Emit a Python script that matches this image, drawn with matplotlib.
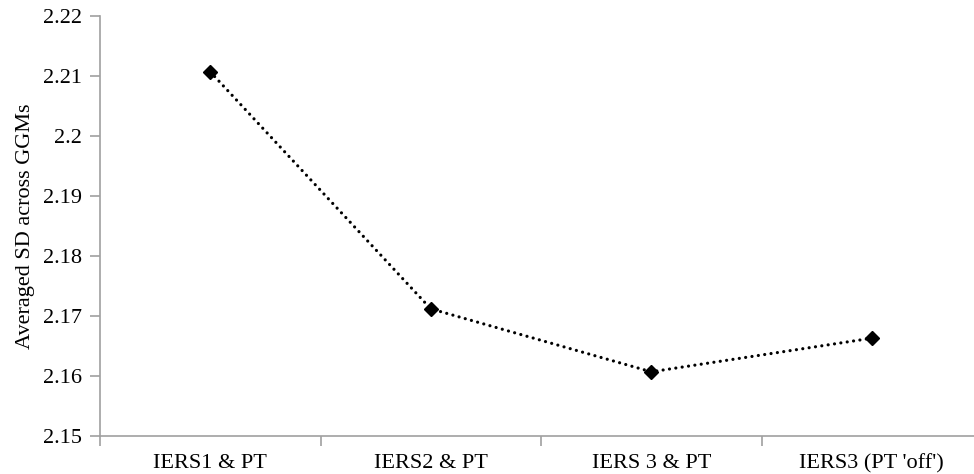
import matplotlib
matplotlib.use("Agg")
import matplotlib.pyplot as plt
import numpy as np

categories = ["IERS1 & PT", "IERS2 & PT", "IERS 3 & PT", "IERS3 (PT 'off')"]
values = [2.2107, 2.1712, 2.1607, 2.1663]
yticks = [2.15, 2.16, 2.17, 2.18, 2.19, 2.20, 2.21, 2.22]
ytick_labels = ["2.15", "2.16", "2.17", "2.18", "2.19", "2.2", "2.21", "2.22"]

plt.rcParams['font.family'] = ['Liberation Serif', 'DejaVu Serif']

fig = plt.figure(figsize=(9.74, 4.74), dpi=100)
W, H = 974, 474
left, right, top, bottom = 100, 982, 16, 436
ax = fig.add_axes([left / W, (H - bottom) / H, (right - left) / W, (bottom - top) / H])

x = np.arange(len(categories))
ax.plot(x, values, linestyle=(0, (0.01, 2.0)), color='black', linewidth=2.3,
        dash_capstyle='round', clip_on=False)
ax.plot(x, values, linestyle='none', marker='D', markersize=7,
        markerfacecolor='black', markeredgecolor='black', clip_on=False)

ax.set_xlim(-0.5, len(categories) - 0.5)
ax.set_ylim(2.15, 2.22)
ax.set_yticks(yticks)
ax.set_yticklabels(ytick_labels, fontsize=16)
ax.set_xticks(x)
ax.set_xticklabels(categories, fontsize=16)
ax.set_xticks(np.arange(len(categories) + 1) - 0.5, minor=True)
ax.tick_params(axis='x', which='major', length=0, pad=13)
ax.tick_params(axis='x', which='minor', length=7, color='#A0A0A0', width=1.2)
ax.tick_params(axis='y', which='major', length=7, color='#A0A0A0', width=1.2, pad=6)

for s in ['top', 'right']:
    ax.spines[s].set_visible(False)
for s in ['left', 'bottom']:
    ax.spines[s].set_color('#A0A0A0')
    ax.spines[s].set_linewidth(1.2)

ax.set_ylabel("Averaged SD across GGMs", fontsize=16, labelpad=6)

fig.savefig("out.png", dpi=100)
